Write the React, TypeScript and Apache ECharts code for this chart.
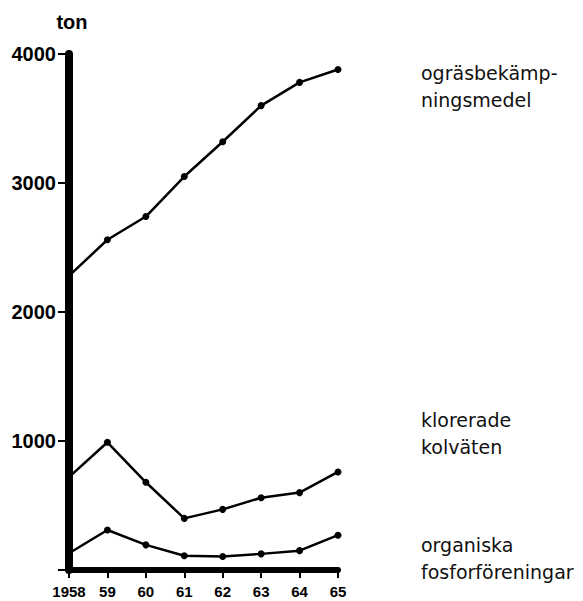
import React, { useEffect, useRef } from "react";
import * as echarts from "echarts";

const years = ["1958", "59", "60", "61", "62", "63", "64", "65"];
const ograsbekampningsmedel = [2280, 2560, 2740, 3050, 3320, 3600, 3780, 3880];
const kloreradeKolvaten = [720, 990, 680, 400, 470, 560, 600, 760];
const organiskaFosfor = [130, 310, 195, 110, 105, 125, 150, 270];
const yTicks = { min: 0, max: 4000, interval: 1000 };
const unitLabel = "ton";
const seriesLabels = [
  ["ogräsbekämp-", "ningsmedel"],
  ["klorerade", "kolväten"],
  ["organiska", "fosforföreningar"],
];

export default function App() {
  const ref = useRef<HTMLDivElement>(null);
  useEffect(() => {
    document.body.style.margin = "0";
    const chart = echarts.init(ref.current!, null, { renderer: "svg" });
    const mk = (name: string, vals: number[]) => ({
      name,
      type: "line",
      data: vals.map((v, i) => (i === 0 ? { value: v, symbol: "none" } : v)),
      symbol: "circle",
      symbolSize: 7,
      lineStyle: { color: "#000", width: 2.5 },
      itemStyle: { color: "#000" },
      z: 3,
    });
    const labelFont = {
      fontFamily: "DejaVu Sans",
      fontSize: 19,
      fill: "#111",
    };
    const labelY = [
      [73, 100],
      [420, 447],
      [545, 572],
    ];
    const graphic: any[] = [];
    seriesLabels.forEach((lines, i) => {
      lines.forEach((t, j) => {
        graphic.push({
          type: "text",
          x: 421,
          y: labelY[i][j],
          style: { text: t, ...labelFont, verticalAlign: "middle", align: "left" },
        });
      });
    });
    chart.setOption({
      animation: false,
      backgroundColor: "#fff",
      grid: { left: 69, right: 245, top: 54, bottom: 31, containLabel: false },
      xAxis: {
        type: "category",
        data: years,
        boundaryGap: false,
        axisLine: { lineStyle: { color: "#000", width: 6, cap: "round" } },
        axisTick: { show: true, length: 8, interval: 0, lineStyle: { color: "#000", width: 2 } },
        axisLabel: {
          color: "#000",
          fontFamily: "Liberation Sans",
          fontWeight: "bold",
          fontSize: 15,
          margin: 14,
          interval: 0,
        },
        splitLine: { show: false },
      },
      yAxis: {
        type: "value",
        min: yTicks.min,
        max: yTicks.max,
        interval: yTicks.interval,
        name: unitLabel,
        nameLocation: "end",
        nameGap: 22,
        nameTextStyle: {
          color: "#000",
          fontFamily: "Liberation Sans",
          fontSize: 20,
          fontWeight: "bold",
          align: "center",
          padding: [0, 0, 0, 6],
        },
        axisLine: { show: true, lineStyle: { color: "#000", width: 8, cap: "round" } },
        axisTick: { show: true, length: 11, lineStyle: { color: "#000", width: 2 } },
        axisLabel: {
          color: "#000",
          fontFamily: "Liberation Sans",
          fontWeight: "bold",
          fontSize: 20,
          margin: 13,
          formatter: (v: number) => (v === 0 ? "" : String(v)),
        },
        splitLine: { show: false },
      },
      series: [
        mk("ogräsbekämpningsmedel", ograsbekampningsmedel),
        mk("klorerade kolväten", kloreradeKolvaten),
        mk("organiska fosforföreningar", organiskaFosfor),
      ],
      graphic,
    });
    return () => chart.dispose();
  }, []);
  return (
    <div
      ref={ref}
      style={{ position: "fixed", left: 0, top: 0, width: 583, height: 601 }}
    />
  );
}
